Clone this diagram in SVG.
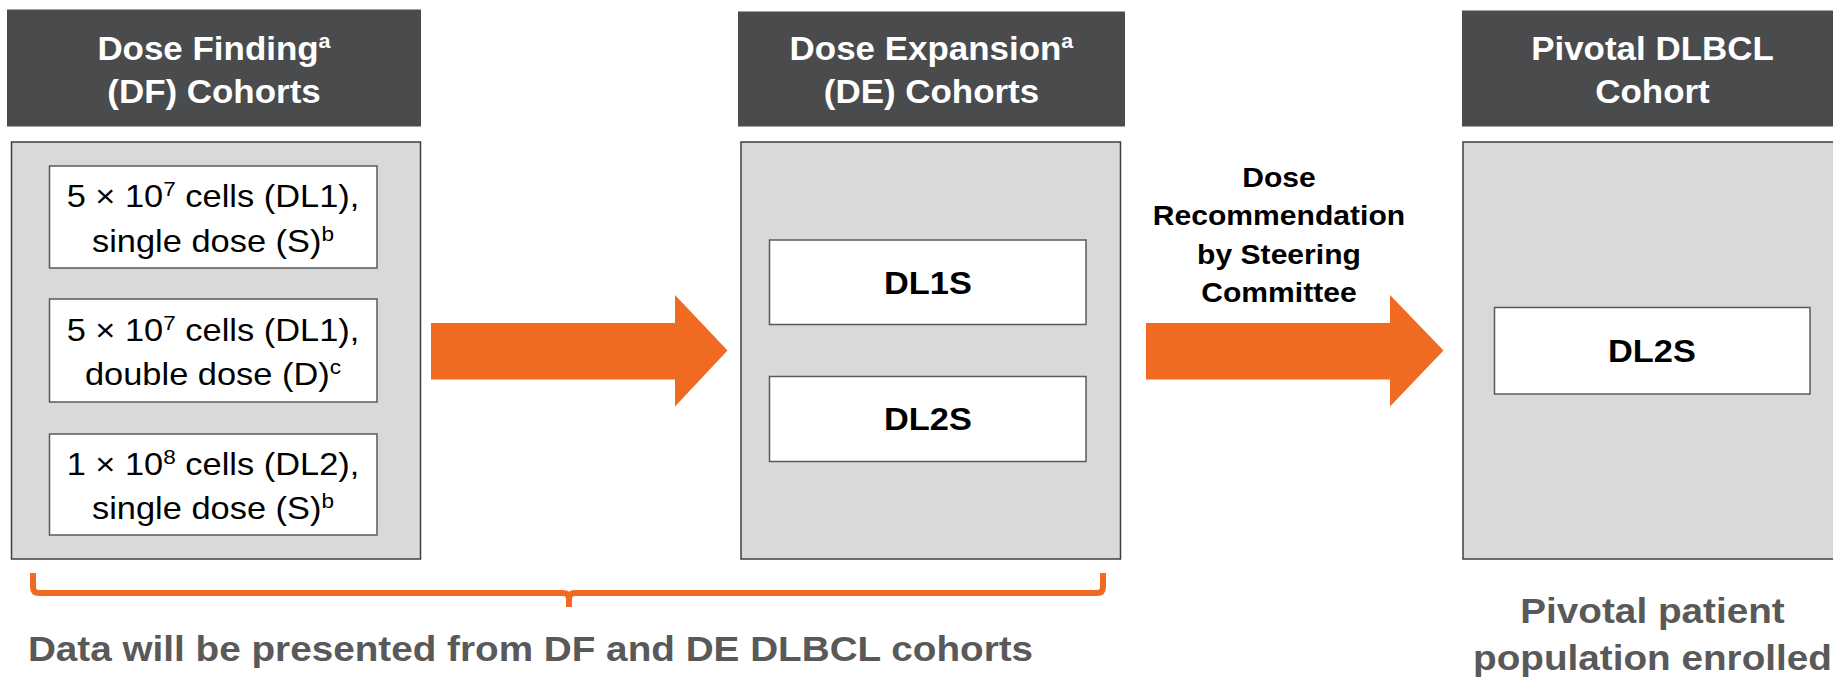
<svg xmlns="http://www.w3.org/2000/svg" width="1833" height="679" viewBox="0 0 1833 679">
  <style>
    text { font-family: "Liberation Sans", Arial, sans-serif; text-anchor: middle; }
    .sx { transform: scaleX(1.075); transform-box: fill-box; transform-origin: center; }
    .hdr { fill: #4A4B4D; }
    .hdr-t { fill: #FFFFFF; font-weight: bold; font-size: 32.5px; }
    .panel { fill: #D9D9D9; stroke: #3F3F3F; stroke-width: 1.5; }
    .cell { fill: #FFFFFF; stroke: #5A5A5A; stroke-width: 1.5; }
    .body { fill: #000000; font-size: 32px; }
    .bold { fill: #000000; font-weight: bold; font-size: 32px; }
    .note { fill: #000000; font-weight: bold; font-size: 28px; }
    .foot { fill: #595959; font-weight: bold; font-size: 36px; }
    .flow { fill: #F06A22; }
    .brace { fill: none; stroke: #F06A22; stroke-width: 6; stroke-linejoin: round; stroke-linecap: butt; }
  </style>

  <!-- Dose finding cohorts -->
  <g id="dose-finding">
    <rect class="hdr" x="7" y="9.5" width="414" height="117"/>
    <text class="hdr-t sx" x="214" y="60">Dose Finding<tspan font-size="20" dy="-12">a</tspan></text>
    <text class="hdr-t sx" x="214" y="103">(DF) Cohorts</text>
    <rect class="panel" x="11.5" y="142" width="409" height="417"/>

    <rect class="cell" x="49.5" y="166" width="327.5" height="102"/>
    <text class="body sx" x="213" y="207">5 × 10<tspan font-size="21" dy="-11">7</tspan><tspan dy="11"> cells (DL1),</tspan></text>
    <text class="body sx" x="213" y="252">single dose (S)<tspan font-size="21" dy="-11">b</tspan></text>

    <rect class="cell" x="49.5" y="299" width="327.5" height="103"/>
    <text class="body sx" x="213" y="341">5 × 10<tspan font-size="21" dy="-11">7</tspan><tspan dy="11"> cells (DL1),</tspan></text>
    <text class="body sx" x="213" y="385">double dose (D)<tspan font-size="21" dy="-11">c</tspan></text>

    <rect class="cell" x="49.5" y="434" width="327.5" height="101"/>
    <text class="body sx" x="213" y="475">1 × 10<tspan font-size="21" dy="-11">8</tspan><tspan dy="11"> cells (DL2),</tspan></text>
    <text class="body sx" x="213" y="519">single dose (S)<tspan font-size="21" dy="-11">b</tspan></text>
  </g>

  <!-- Dose expansion cohorts -->
  <g id="dose-expansion">
    <rect class="hdr" x="738" y="11.5" width="387" height="115"/>
    <text class="hdr-t sx" x="931.5" y="60">Dose Expansion<tspan font-size="20" dy="-12">a</tspan></text>
    <text class="hdr-t sx" x="931.5" y="103">(DE) Cohorts</text>
    <rect class="panel" x="741" y="142" width="379.5" height="417"/>

    <rect class="cell" x="769.5" y="240" width="316.5" height="84.5"/>
    <text class="bold sx" x="928" y="294">DL1S</text>

    <rect class="cell" x="769.5" y="376.5" width="316.5" height="85"/>
    <text class="bold sx" x="928" y="430.5">DL2S</text>
  </g>

  <!-- Pivotal cohort -->
  <g id="pivotal">
    <rect class="hdr" x="1462" y="10.5" width="390" height="116"/>
    <text class="hdr-t sx" x="1652.5" y="60">Pivotal DLBCL</text>
    <text class="hdr-t sx" x="1652.5" y="103">Cohort</text>
    <rect class="panel" x="1463" y="142" width="390" height="417"/>

    <rect class="cell" x="1494.5" y="307.5" width="315.5" height="86.5"/>
    <text class="bold sx" x="1652" y="362">DL2S</text>
  </g>

  <!-- Connectors -->
  <g id="connectors">
    <polygon class="flow" points="431,323 675,323 675,295 727.5,350.5 675,406.5 675,379.5 431,379.5"/>
    <polygon class="flow" points="1146,323 1390,323 1390,295 1443.5,350.5 1390,406.5 1390,379.5 1146,379.5"/>
    <path class="brace" d="M33,573 V587 Q33,593 39,593 H563 Q569,593 569,599 V607 M569,599 Q569,593 575,593 H1097 Q1103,593 1103,587 V573"/>
  </g>

  <!-- Arrow label -->
  <g id="steering-label">
    <text class="note sx" x="1279" y="187">Dose</text>
    <text class="note sx" x="1279" y="225.5">Recommendation</text>
    <text class="note sx" x="1279" y="264">by Steering</text>
    <text class="note sx" x="1279" y="302">Committee</text>
  </g>

  <!-- Captions -->
  <g id="captions">
    <text class="foot sx" x="530.5" y="661">Data will be presented from DF and DE DLBCL cohorts</text>
    <text class="foot sx" x="1652.5" y="623">Pivotal patient</text>
    <text class="foot sx" x="1652.5" y="670">population enrolled</text>
  </g>
</svg>
